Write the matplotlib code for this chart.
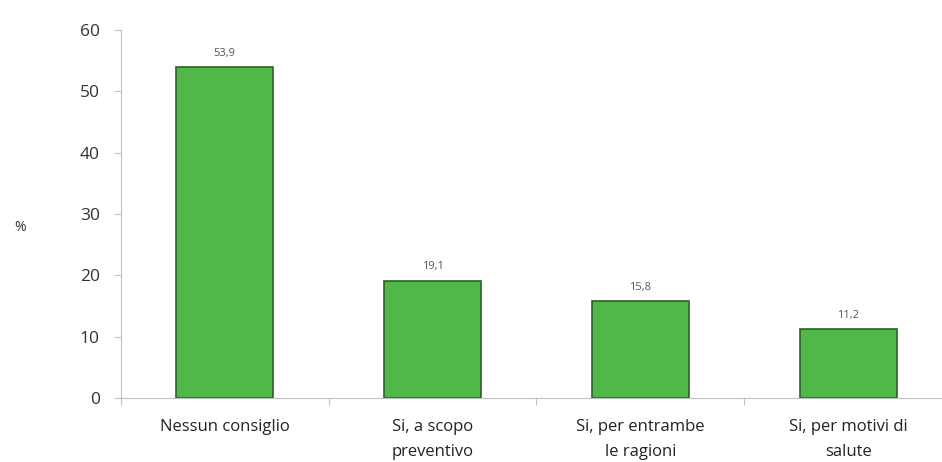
import numpy as np
import matplotlib.pyplot as plt

categories = ["Nessun consiglio", "Si, a scopo\npreventivo", "Si, per entrambe\nle ragioni", "Si, per motivi di\nsalute"]
values = [53.9, 19.1, 15.8, 11.2]
value_labels = ["53,9", "19,1", "15,8", "11,2"]
y_ticks = [0, 10, 20, 30, 40, 50, 60]

plt.rcParams['font.family'] = ['Open Sans', 'DejaVu Sans']

fig = plt.figure(figsize=(9.42, 4.62), dpi=100)
ax = fig.add_axes([0.128, 0.1385, 0.883, 0.7965])

x = np.arange(len(categories))
ax.bar(x, values, width=0.47, color="#50B848", edgecolor="#2F5F2A", linewidth=1.2, zorder=2)

for xi, v, lab in zip(x, values, value_labels):
    ax.text(xi, v + 1.4, lab, ha="center", va="bottom", fontsize=8, color="#555555")

ax.set_xlim(-0.5, len(categories) - 0.5)
ax.set_ylim(0, 60)
ax.set_yticks(y_ticks)
ax.tick_params(axis="y", labelsize=12.5, colors="#BFBFBF", labelcolor="#333333", length=5, pad=10)

ax.set_xticks(np.arange(len(categories) + 1) - 0.5, minor=False)
ax.set_xticklabels([])
ax.set_xticks(x, minor=True)
ax.set_xticklabels(categories, minor=True, fontsize=12, color="#222222", linespacing=1.75)
ax.tick_params(axis="x", which="major", length=5, colors="#BFBFBF")
ax.tick_params(axis="x", which="minor", length=0, pad=15)

for s in ["top", "right"]:
    ax.spines[s].set_visible(False)
for s in ["left", "bottom"]:
    ax.spines[s].set_color("#BFBFBF")

fig.text(20 / 942, 1 - 228 / 462, "%", fontsize=10, color="#333333", ha="center", va="center")

fig.savefig("out.png", dpi=100)
